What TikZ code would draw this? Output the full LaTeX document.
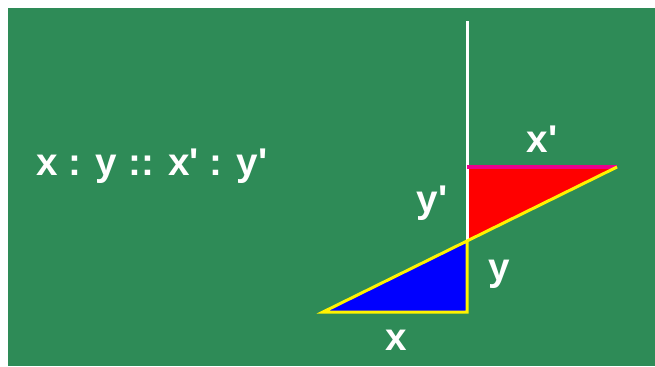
\documentclass[tikz,border=0pt]{standalone}
\usepackage{fontspec}
\setmainfont{Liberation Sans}
\usetikzlibrary{positioning}

\definecolor{boardgreen}{RGB}{46,139,87}
\newcommand{\pr}{\textquotesingle}

\begin{document}
\begin{tikzpicture}[x=0.02cm, y=-0.02cm, font=\fontsize{22}{26}\selectfont\bfseries,
    lbl/.style={text=white, anchor=base, inner sep=0pt},
    edge/.style={line width=3pt*0.57}]
        \useasboundingbox (0,0) rectangle (655,366);
        \fill[white] (0,0) rectangle (655,366);
        \fill[boardgreen] (8,8) rectangle (655,366);

        % corners of the two triangles
        \coordinate (top) at (467,21);
        \coordinate (tip) at (617,167);
        \coordinate (corner) at (467,167);
        \coordinate (meet) at (467,241);
        \coordinate (base) at (467,312);
        \coordinate (left) at (323,312);

        \fill[red] (corner) -- (tip) -- (meet) -- cycle;
        \fill[blue] (left) -- (base) -- (meet) -- cycle;

        \draw[white, edge] (top) -- (meet);
        \draw[magenta, line width=4pt*0.57] (corner) -- (tip);
        \draw[yellow, edge] (tip) -- (left) -- (base) -- (meet);

        \node[lbl] (ratio) at (152,175) {x : y :: x\pr\ : y\pr};
        \node[lbl] (xp) at (542,152) {x\pr};
        \node[lbl] (yp) at (432,212) {y\pr};
        \node[lbl] (yl) at (499,280) {y};
        \node[lbl] (xl) at (396,350) {x};
    \end{tikzpicture}
\end{document}
